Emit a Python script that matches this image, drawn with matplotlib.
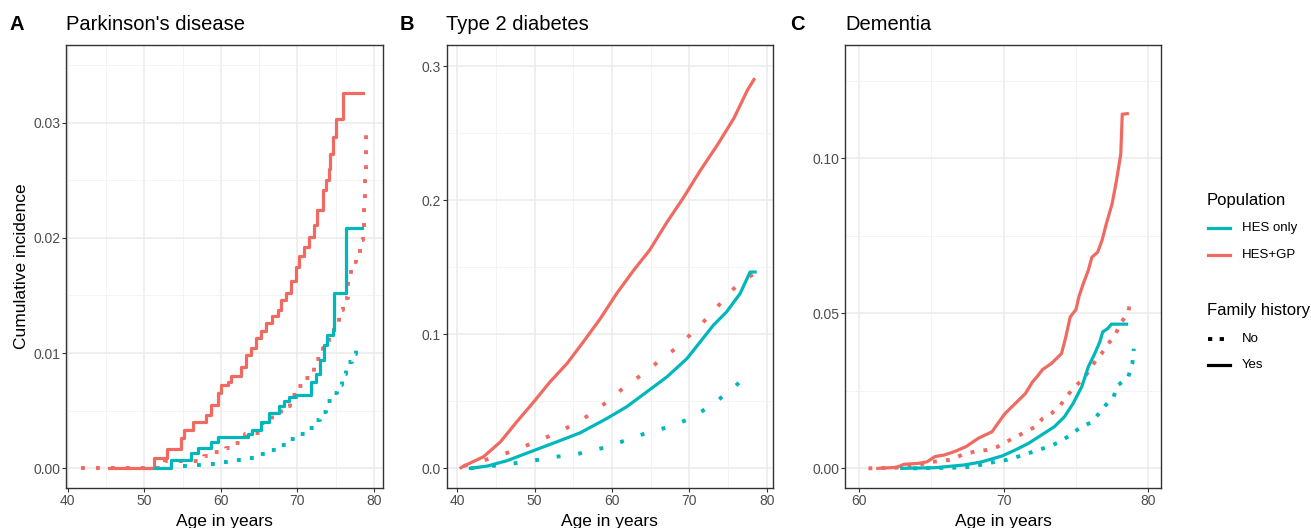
import matplotlib
matplotlib.use("Agg")
import matplotlib.pyplot as plt
from matplotlib.lines import Line2D

plt.rcParams['font.family'] = ['Liberation Sans', 'DejaVu Sans']

RED = '#F06A62'
TEAL = '#00B7BB'

# ---------------- Panel A: Parkinson's disease (step curves) ----------------
pd_gp_yes_x = [45.35, 51.3, 53.0, 54.8, 55.2, 56.3, 58.0, 58.7, 59.6, 60.0, 60.9, 61.3, 62.6, 63.3, 63.9,
               64.6, 65.2, 65.9, 66.7, 67.4, 67.8, 68.5, 69.1, 69.8, 70.2, 70.9, 71.5, 72.2, 72.6, 73.3,
               73.7, 74.1, 74.3, 74.65, 75.0, 76.0, 78.5]
pd_gp_yes_y = [0.0, 0.00087, 0.00165, 0.0026, 0.0033, 0.0040, 0.0046, 0.0055, 0.0065, 0.0072, 0.0075, 0.0080,
               0.0088, 0.0098, 0.0104, 0.0113, 0.0119, 0.0126, 0.0132, 0.0137, 0.0146, 0.0152, 0.0163, 0.0175,
               0.0184, 0.0192, 0.0201, 0.0211, 0.0224, 0.0242, 0.0250, 0.0260, 0.0273, 0.0288, 0.0303,
               0.0326, 0.0326]

pd_hes_yes_x = [51.4, 53.5, 56.1, 57.0, 58.7, 59.6, 63.5, 64.1, 65.2, 66.3, 67.6, 68.3, 68.9, 69.8, 71.7,
                72.4, 73.0, 73.5, 73.9, 74.6, 74.8, 76.3, 78.4]
pd_hes_yes_y = [0.0, 0.00072, 0.0013, 0.0018, 0.0023, 0.0027, 0.0030, 0.0033, 0.0040, 0.0048, 0.0054, 0.0058,
                0.0062, 0.0064, 0.0075, 0.0082, 0.0094, 0.0107, 0.0116, 0.0120, 0.0152, 0.0209, 0.0209]

pd_gp_no_x = [41.7, 52.0, 52.7, 57.8, 59.1, 60.65, 61.9, 63.1, 64.35, 65.4, 66.7, 67.8, 69.0, 70.0, 71.0,
              72.2, 73.3, 74.1, 74.8, 75.4, 76.0, 76.65, 77.0, 77.6, 78.1, 78.6, 78.7, 78.8, 78.9, 79.0]
pd_gp_no_y = [0.0, 0.0, 0.0006, 0.0011, 0.0014, 0.0018, 0.0022, 0.0030, 0.0031, 0.0039, 0.0046, 0.0054,
              0.0064, 0.0071, 0.0078, 0.0095, 0.0104, 0.0117, 0.0123, 0.0137, 0.0148, 0.0168, 0.0179,
              0.0187, 0.0198, 0.0208, 0.0228, 0.0254, 0.0280, 0.0298]

pd_hes_no_x = [55.0, 56.65, 58.6, 60.3, 62.0, 63.5, 65.0, 66.2, 67.4, 68.7, 70.0, 71.1, 72.2, 73.0, 73.7,
               74.6, 75.2, 75.8, 76.3, 77.1, 77.6]
pd_hes_no_y = [0.0002, 0.0003, 0.00035, 0.0005, 0.0007, 0.0009, 0.0012, 0.0016, 0.0020, 0.0025, 0.0030,
               0.0035, 0.0042, 0.0049, 0.0058, 0.0065, 0.0072, 0.0082, 0.0092, 0.0099, 0.0109]

# ---------------- Panel B: Type 2 diabetes ----------------
t2d_gp_yes_x = [40.5, 40.85, 43.4, 45.6, 47.7, 49.9, 52.0, 54.2, 56.3, 58.5, 60.6, 62.8, 64.9, 67.1,
                69.25, 71.4, 73.6, 75.75, 77.5, 78.35]
t2d_gp_yes_y = [0.0005, 0.0017, 0.0086, 0.0198, 0.0347, 0.0496, 0.0645, 0.0782, 0.0943, 0.1117, 0.1303,
                0.1477, 0.163, 0.1835, 0.202, 0.222, 0.241, 0.261, 0.282, 0.290]

t2d_hes_yes_x = [41.7, 43.9, 46.45, 49.5, 52.9, 55.9, 59.35, 61.9, 64.5, 67.1, 69.7, 71.4, 73.1, 74.8,
                 76.55, 77.85, 78.5]
t2d_hes_yes_y = [0.0, 0.0017, 0.0057, 0.0124, 0.0198, 0.0265, 0.0372, 0.0459, 0.057, 0.0682, 0.0819,
                 0.0943, 0.1067, 0.1166, 0.1303, 0.1464, 0.1464]

t2d_gp_no_x = [40.85, 44.3, 46.9, 49.9, 52.7, 55.3, 57.6, 59.8, 61.9, 64.1, 66.2, 68.4, 70.5, 72.25,
               74.0, 75.5, 77.0, 78.5]
t2d_gp_no_y = [0.0017, 0.0074, 0.0124, 0.0191, 0.026, 0.0335, 0.0417, 0.0516, 0.062, 0.0707, 0.0806,
               0.0901, 0.1017, 0.1117, 0.1229, 0.1328, 0.1402, 0.1456]

t2d_hes_no_x = [41.7, 45.6, 49.0, 52.5, 55.5, 58.9, 61.9, 64.9, 67.5, 70.1, 72.7, 74.8, 76.8, 78.1]
t2d_hes_no_y = [0.0, 0.0025, 0.0049, 0.0084, 0.0106, 0.0153, 0.0211, 0.0273, 0.031, 0.0372, 0.0464,
                0.0558, 0.0657, 0.0695]

# ---------------- Panel C: Dementia ----------------
dem_gp_yes_x = [61.3, 62.6, 63.1, 64.1, 64.7, 65.25, 65.9, 66.6, 67.4, 68.25, 69.2, 69.6, 70.1, 70.8,
                71.5, 72.0, 72.3, 72.7, 73.3, 74.0, 74.3, 74.6, 75.0, 75.2, 75.5, 75.85, 76.1, 76.5,
                76.8, 77.1, 77.5, 77.8, 78.1, 78.2, 78.55]
dem_gp_yes_y = [0.0, 0.0003, 0.0013, 0.0016, 0.0021, 0.0038, 0.0043, 0.0054, 0.0070, 0.0097, 0.0118,
                0.0145, 0.0177, 0.0209, 0.0241, 0.0279, 0.0295, 0.0319, 0.0338, 0.0370, 0.0424, 0.0488,
                0.0512, 0.0553, 0.0595, 0.0638, 0.0681, 0.0697, 0.0735, 0.0789, 0.0853, 0.0928, 0.1014,
                0.1142, 0.1144]

dem_hes_yes_x = [62.95, 65.25, 67.3, 68.5, 69.9, 70.8, 71.7, 72.6, 73.5, 74.2, 74.8, 75.4, 75.85, 76.3,
                 76.65, 76.85, 77.2, 77.45, 78.5]
dem_hes_yes_y = [0.0, 0.0002, 0.0011, 0.0021, 0.0040, 0.0059, 0.0080, 0.0107, 0.0134, 0.0166, 0.0209,
                 0.0263, 0.0327, 0.0370, 0.0408, 0.0440, 0.0451, 0.0465, 0.0465]

dem_gp_no_x = [60.65, 62.5, 63.6, 64.55, 65.5, 66.3, 67.2, 68.0, 68.8, 69.6, 70.2, 70.9, 71.5, 72.2,
               72.7, 73.3, 73.9, 74.35, 74.8, 75.4, 75.85, 76.3, 76.8, 77.2, 77.7, 78.1, 78.6, 78.8]
dem_gp_no_y = [0.0, 0.0002, 0.0005, 0.0016, 0.0024, 0.0027, 0.0045, 0.0054, 0.0059, 0.0070, 0.0086,
               0.0102, 0.0118, 0.0134, 0.0161, 0.0177, 0.0202, 0.0231, 0.0258, 0.0284, 0.0311, 0.0343,
               0.0372, 0.0400, 0.0429, 0.0469, 0.0501, 0.0547]

dem_hes_no_x = [63.75, 66.5, 67.8, 69.4, 70.2, 71.0, 71.8, 72.6, 73.4, 74.0, 74.7, 75.3, 76.0, 76.5,
                77.0, 77.6, 77.9, 78.6, 78.9, 79.0]
dem_hes_no_y = [0.0, 0.0002, 0.0005, 0.0021, 0.0027, 0.0038, 0.0050, 0.0062, 0.0075, 0.0089, 0.0110,
                0.0132, 0.0147, 0.0172, 0.0201, 0.0231, 0.0268, 0.0293, 0.0338, 0.0386]

panel_letters = ['A', 'B', 'C']
panel_titles = ["Parkinson's disease", "Type 2 diabetes", "Dementia"]
pop_labels = ['HES only', 'HES+GP']
fh_labels = ['No', 'Yes']

LW = 2.3
LW_DOT = 2.8

fig = plt.figure(figsize=(13.11, 5.28), dpi=100)
W, H = 1311, 528

def ax_rect(x0, x1, y0=44.5, y1=488.3):
    return [x0 / W, (H - y1) / H, (x1 - x0) / W, (y1 - y0) / H]

axA = fig.add_axes(ax_rect(66.2, 382.7))
axB = fig.add_axes(ax_rect(446.5, 772.7))
axC = fig.add_axes(ax_rect(845.0, 1161.0))

def style(ax, xlim, ylim, xt, xminor, yt, yminor, ylabels):
    ax.set_xlim(*xlim)
    ax.set_ylim(*ylim)
    ax.set_xticks(xt)
    ax.set_xticks(xminor, minor=True)
    ax.set_yticks(yt)
    ax.set_yticklabels(ylabels)
    ax.set_yticks(yminor, minor=True)
    ax.grid(True, which='major', color='#EBEBEB', lw=1.1, zorder=0)
    ax.grid(True, which='minor', color='#F2F2F2', lw=0.6, zorder=0)
    ax.set_axisbelow(True)
    for s in ax.spines.values():
        s.set_color('#333333')
        s.set_linewidth(1.0)
    ax.tick_params(which='major', length=2.75, width=0.8, color='#333333',
                   labelsize=10, labelcolor='#4D4D4D', pad=1.5)
    ax.tick_params(which='minor', length=0)
    ax.set_xlabel('Age in years', fontsize=12.5, labelpad=4, color='black')

def draw(ax, series, dots, steps):
    for (x, y), col, ls in series:
        if ls == 'no':
            kw = dict(color=col, lw=LW_DOT, ls=(0, dots))
        else:
            kw = dict(color=col, lw=LW, ls='-')
        if steps:
            ax.step(x, y, where='post', **kw)
        else:
            ax.plot(x, y, **kw)

# Panel A
draw(axA, [((pd_gp_no_x, pd_gp_no_y), RED, 'no'), ((pd_hes_no_x, pd_hes_no_y), TEAL, 'no'),
           ((pd_gp_yes_x, pd_gp_yes_y), RED, 'yes'), ((pd_hes_yes_x, pd_hes_yes_y), TEAL, 'yes')],
     (1, 2.85), True)
style(axA, (39.79, 81.13), (-0.00174, 0.03679), [40, 50, 60, 70, 80], [45, 55, 65, 75],
      [0, 0.01, 0.02, 0.03], [0.005, 0.015, 0.025, 0.035], ['0.00', '0.01', '0.02', '0.03'])
axA.set_ylabel('Cumulative incidence', fontsize=12.5, labelpad=3)

# Panel B
draw(axB, [((t2d_gp_no_x, t2d_gp_no_y), RED, 'no'), ((t2d_hes_no_x, t2d_hes_no_y), TEAL, 'no'),
           ((t2d_gp_yes_x, t2d_gp_yes_y), RED, 'yes'), ((t2d_hes_yes_x, t2d_hes_yes_y), TEAL, 'yes')],
     (1, 4.6), False)
style(axB, (38.62, 80.77), (-0.0149, 0.3161), [40, 50, 60, 70, 80], [45, 55, 65, 75],
      [0, 0.1, 0.2, 0.3], [0.05, 0.15, 0.25], ['0.0', '0.1', '0.2', '0.3'])

# Panel C
draw(axC, [((dem_gp_no_x, dem_gp_no_y), RED, 'no'), ((dem_hes_no_x, dem_hes_no_y), TEAL, 'no'),
           ((dem_gp_yes_x, dem_gp_yes_y), RED, 'yes'), ((dem_hes_yes_x, dem_hes_yes_y), TEAL, 'yes')],
     (1, 2.35), False)
style(axC, (59.03, 80.88), (-0.00644, 0.1367), [60, 70, 80], [65, 75],
      [0, 0.05, 0.10], [0.025, 0.075, 0.125], ['0.00', '0.05', '0.10'])

# Titles and panel letters
for ax, letter, title, lx in zip([axA, axB, axC], panel_letters, panel_titles, [10, 400, 790]):
    x0 = ax.get_position().x0
    fig.text(lx / W, 1 - 25 / H, letter, fontsize=14.5, fontweight='bold', va='center', ha='left')
    fig.text(x0, 1 - 25 / H, title, fontsize=14.5, va='center', ha='left')

# Legends (ggplot style)
def fx(px):
    return px / W
def fy(py):
    return 1 - py / H

fig.text(fx(1207), fy(201), 'Population', fontsize=12, va='center', ha='left')
for lab, col, py in zip(pop_labels, [TEAL, RED], [228, 255]):
    fig.add_artist(Line2D([fx(1208), fx(1230)], [fy(py), fy(py)], color=col, lw=LW,
                          transform=fig.transFigure))
    fig.text(fx(1242), fy(py), lab, fontsize=9.5, va='center', ha='left')

fig.text(fx(1207), fy(311), 'Family history', fontsize=12, va='center', ha='left')
fig.add_artist(Line2D([fx(1208), fx(1225)], [fy(339), fy(339)], color='black', lw=LW_DOT,
                      ls=(0, (1.1, 1.9)), transform=fig.transFigure))
fig.text(fx(1242), fy(339), fh_labels[0], fontsize=9.5, va='center', ha='left')
fig.add_artist(Line2D([fx(1208), fx(1230)], [fy(365), fy(365)], color='black', lw=LW,
                      transform=fig.transFigure))
fig.text(fx(1242), fy(365), fh_labels[1], fontsize=9.5, va='center', ha='left')

fig.savefig('out.png', dpi=100)
